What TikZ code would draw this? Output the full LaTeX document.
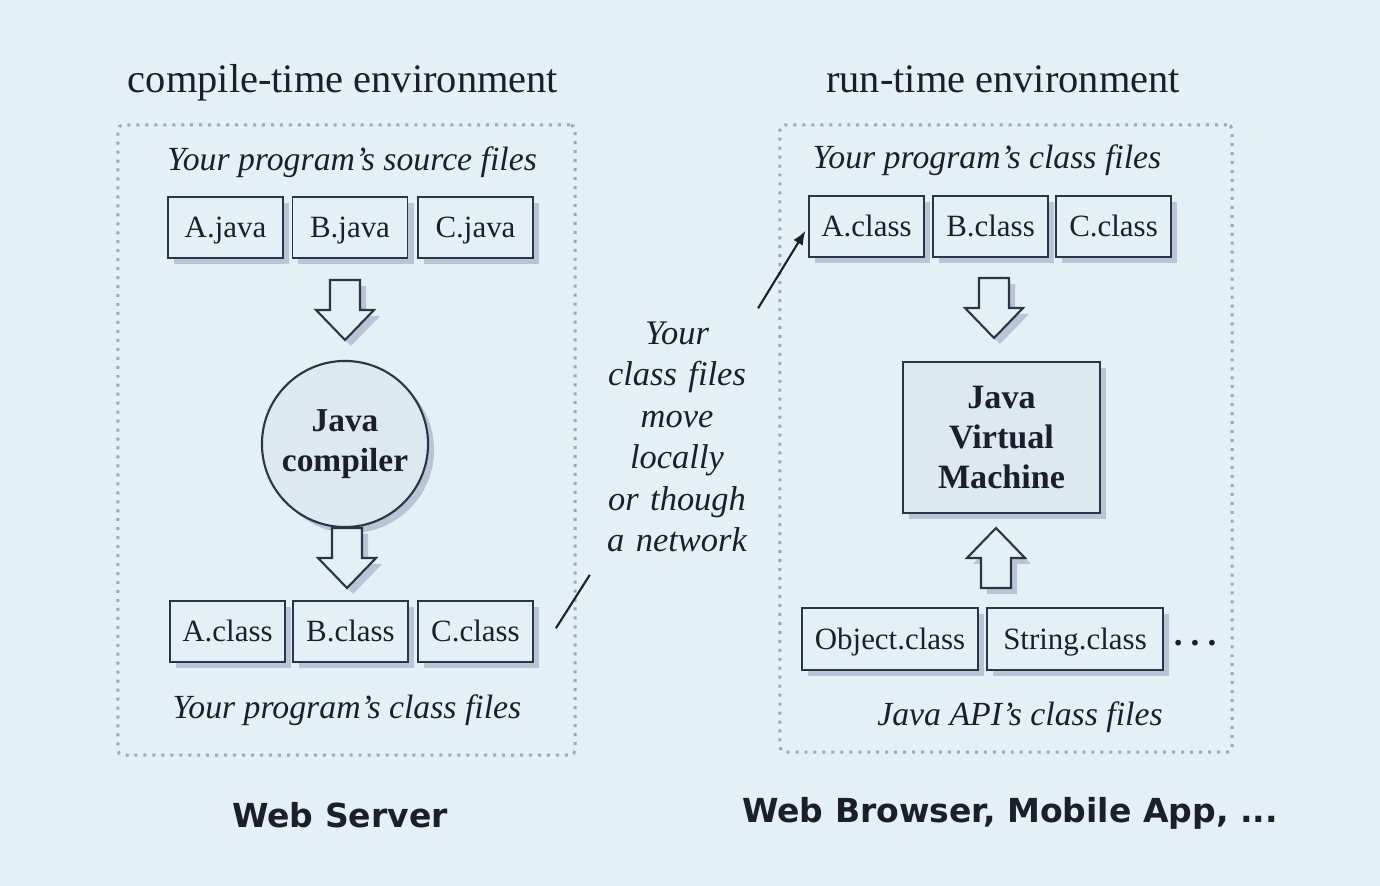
\documentclass[tikz,border=0pt]{standalone}
\usepackage{fontspec}
\setmainfont{Liberation Serif}
\newfontfamily\labelsans{DejaVu Sans}
\usepackage{tikz}
\usetikzlibrary{shadows,arrows.meta}

\definecolor{bgc}{RGB}{227,241,246}
\definecolor{darkfill}{RGB}{220,233,240}
\definecolor{inkc}{RGB}{28,31,43}
\definecolor{edgec}{RGB}{45,52,68}
\definecolor{shadowc}{RGB}{184,196,216}
\definecolor{framec}{RGB}{150,170,192}

% block arrow: #1 = base of the shaft, #2 = 1 (down) or -1 (up)
\newcommand{\blockarrow}[2]{%
  \begin{scope}[shift={(#1)}]
    \fill[shadowc, shift={(6,6)}, yscale=#2] (-15,0) -- (15,0) -- (15,30) -- (29,30) -- (0,60) -- (-29,30) -- (-15,30) -- cycle;
    \draw[edgec, fill=bgc, line width=0.6pt, yscale=#2] (-15,0) -- (15,0) -- (15,30) -- (29,30) -- (0,60) -- (-29,30) -- (-15,30) -- cycle;
  \end{scope}}

\begin{document}
\begin{tikzpicture}[x=0.01cm,y=-0.01cm,
  boxshadow/.style={drop shadow={shadow xshift=0.6mm, shadow yshift=-0.6mm, fill=shadowc, opacity=1}},
  title/.style={anchor=base, font=\fontsize{11.5}{13}\selectfont, text=inkc},
  caption/.style={font=\fontsize{9.6}{11}\selectfont\itshape, text=inkc},
  frame/.style={draw=framec, line width=0.85pt, dash pattern=on 0.85pt off 1.7pt, rounded corners=1.5pt, inner sep=0pt},
  file/.style={draw=edgec, line width=0.5pt, fill=bgc, boxshadow, minimum height=0.61cm, minimum width=1.15cm,
    inner sep=0pt, text height=1.5ex, text depth=.25ex, font=\fontsize{8.8}{10}\selectfont, text=inkc},
  compiler/.style={circle, draw=edgec, line width=0.6pt, fill=darkfill, boxshadow, minimum size=1.66cm, inner sep=0pt,
    align=center, font=\fontsize{9.5}{11.4}\selectfont\bfseries, text=inkc},
  engine/.style={draw=edgec, line width=0.6pt, fill=darkfill, boxshadow, minimum width=1.97cm, minimum height=1.51cm,
    align=center, font=\fontsize{9.7}{11.4}\selectfont\bfseries, text=inkc},
  platform/.style={font=\fontsize{9.4}{11}\labelsans\bfseries, text=inkc},
  link/.style={draw=inkc, line width=0.6pt}]

\useasboundingbox (0,0) rectangle (1380,886);
\fill[bgc] (0,0) rectangle (1380,886);

% environments
\node[frame, minimum width=4.57cm, minimum height=6.3cm] (cenv) at (346.5,440) {};
\node[frame, minimum width=4.52cm, minimum height=6.27cm] (renv) at (1006,438.5) {};
\node[title] (ctitle) at (343,93) {compile-time environment};
\node[title] (rtitle) at (1003,93) {run-time environment};

% compile-time side
\node[caption] (srcfiles) at (352,162) {Your program's source files};
\node[file] (Aj) at (225.5,227.5) {A.java};
\node[file] (Bj) at (350,227.5) {B.java};
\node[file] (Cj) at (475.5,227.5) {C.java};
\blockarrow{345,280}{1}
\node[compiler] (javac) at (345,444) {Java\\compiler};
\blockarrow{347,528}{1}
\node[file] (Al) at (227.5,631.5) {A.class};
\node[file] (Bl) at (350.5,631.5) {B.class};
\node[file] (Cl) at (475.5,631.5) {C.class};
\node[caption] (outfiles) at (347,710) {Your program's class files};

% run-time side
\node[caption] (infiles) at (987,160) {Your program's class files};
\node[file] (Ar) at (866.5,226.5) {A.class};
\node[file] (Br) at (990.5,226.5) {B.class};
\node[file] (Cr) at (1113.5,226.5) {C.class};
\blockarrow{994,278}{1}
\node[engine] (jvm) at (1001.5,437.5) {Java\\Virtual\\Machine};
\blockarrow{996,588}{-1}
\node[file, minimum width=1.76cm, minimum height=0.62cm] (Ob) at (890,639) {Object.class};
\node[file, minimum width=1.76cm, minimum height=0.62cm] (St) at (1075,639) {String.class};
\node[text=inkc, font=\fontsize{10}{11}\selectfont\bfseries] (more) at (1195,643) {.\hspace{2.3pt}.\hspace{2.3pt}.};
\node[caption] (apifiles) at (1020,717) {Java API's class files};

% transfer
\node[caption, align=center, inner sep=0pt, text width=1.45cm, font=\fontsize{9.8}{11.8}\selectfont\itshape]
  (move) at (677,437) {Your\\class files\\move\\locally\\or though\\a network};
\draw[link, shorten <=4.1mm, shorten >=2.6mm] (Cl.south east) -- (move.south west);
\draw[link, -{Latex[length=1.4mm,width=1.1mm]}, shorten <=1.5mm, shorten >=0.5mm] (move.north east) -- (Ar.west);

% platforms
\node[platform] (server) at (340,815) {Web Server};
\node[platform] (client) at (1010,813) {Web Browser, Mobile App, ...};
\end{tikzpicture}
\end{document}
